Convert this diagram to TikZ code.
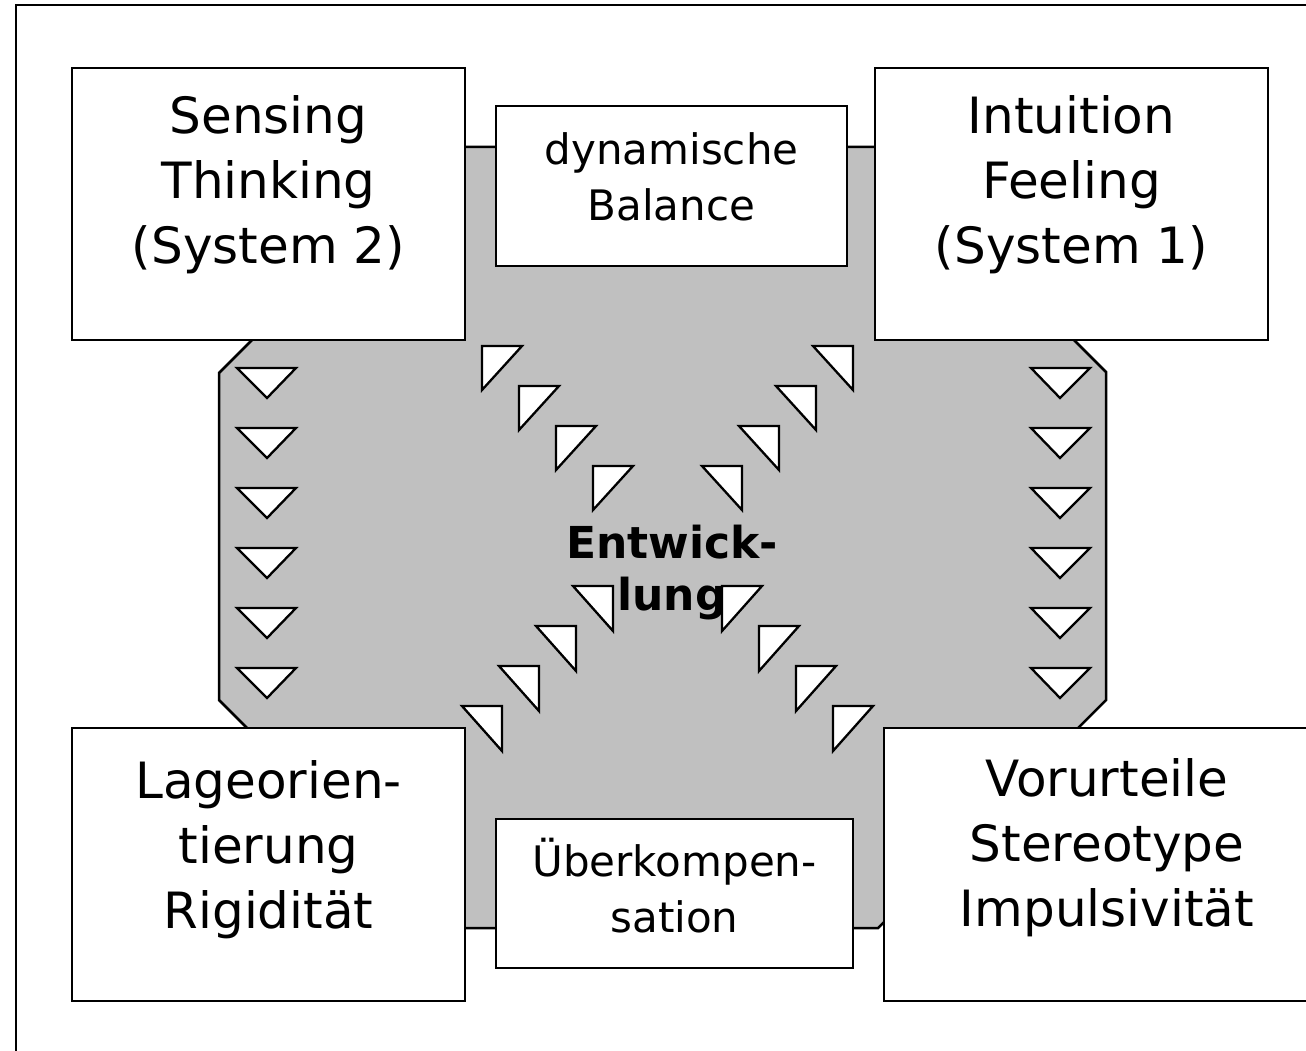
\documentclass[tikz,border=0pt]{standalone}
\usepackage{fontspec}
\setmainfont{DejaVu Sans}
\begin{document}
\begin{tikzpicture}[x=1pt,y=-1pt,
  box/.style={draw, line width=2.5pt, fill=white, inner sep=0pt, outer sep=0pt},
  bigtxt/.style={font=\fontsize{50}{65}\selectfont, align=center, inner sep=0pt},
  midtxt/.style={font=\fontsize{42}{56}\selectfont, align=center, inner sep=0pt},
  boldtxt/.style={font=\fontsize{44}{52}\selectfont\bfseries, align=center, inner sep=0pt},
  tri/.style={draw, fill=white, line width=2.3pt, line join=miter},
  octa/.style={draw, fill={rgb,255:red,192;green,192;blue,192}, line width=2.5pt, line join=miter}]
\useasboundingbox (0,0) rectangle (1306,1051);
\clip (0,0) rectangle (1306,1051);
% outer frame
\draw[line width=2.5pt] (16,5) rectangle (1360,1100);
% grey octagon
\draw[octa] (445,147) -- (881,147) -- (1106,372) -- (1106,700) -- (878,928)
  -- (447,928) -- (219,700) -- (219,373) -- cycle;
% corner boxes
\node[box, minimum width=393pt, minimum height=272pt] (st) at (268.5,204) {};
\node[box, minimum width=393pt, minimum height=272pt] (nf) at (1071.5,204) {};
\node[box, minimum width=393pt, minimum height=273pt] (lo) at (268.5,864.5) {};
\node[box, minimum width=446pt, minimum height=273pt] (vs) at (1107,864.5) {};
% middle boxes
\node[box, minimum width=351pt, minimum height=160pt] (db) at (671.5,186) {};
\node[box, minimum width=357pt, minimum height=149pt] (uk) at (674.5,893.5) {};
% texts (anchor = baseline of last line)
\node[bigtxt, anchor=base] (stT) at (268.5,263) {Sensing\\Thinking\\(System 2)};
\node[bigtxt, anchor=base] (nfT) at (1071.5,263) {Intuition\\Feeling\\(System 1)};
\node[bigtxt, anchor=base] (loT) at (268.5,928) {Lageorien-\\tierung\\Rigidität};
\node[bigtxt, anchor=base] (vsT) at (1107,926) {Vorurteile\\Stereotype\\Impulsivität};
\node[midtxt, anchor=base] (dbT) at (671.5,221) {dynamische\\Balance};
\node[midtxt, anchor=base] (ukT) at (674.5,932) {Überkompen-\\sation};
\node[boldtxt, anchor=base] (ent) at (672,610) {Entwick-\\lung};
% down triangles
\foreach \t in {368,428,488,548,608,668}{
  \draw[tri] (237,\t) -- (296,\t) -- (267,\t+30) -- cycle;
  \draw[tri] (1031,\t) -- (1090,\t) -- (1060,\t+30) -- cycle;
}
% diagonal triangles
\foreach \i in {0,1,2,3}{
  \draw[tri] (482+37*\i,346+40*\i) -- ++(40,0) -- ++(-40,44) -- cycle;
  \draw[tri] (853-37*\i,346+40*\i) -- ++(-40,0) -- ++(40,44) -- cycle;
  \draw[tri] (613-37*\i,586+40*\i) -- ++(-40,0) -- ++(40,45) -- cycle;
  \draw[tri] (722+37*\i,586+40*\i) -- ++(40,0) -- ++(-40,45) -- cycle;
}
\end{tikzpicture}
\end{document}
